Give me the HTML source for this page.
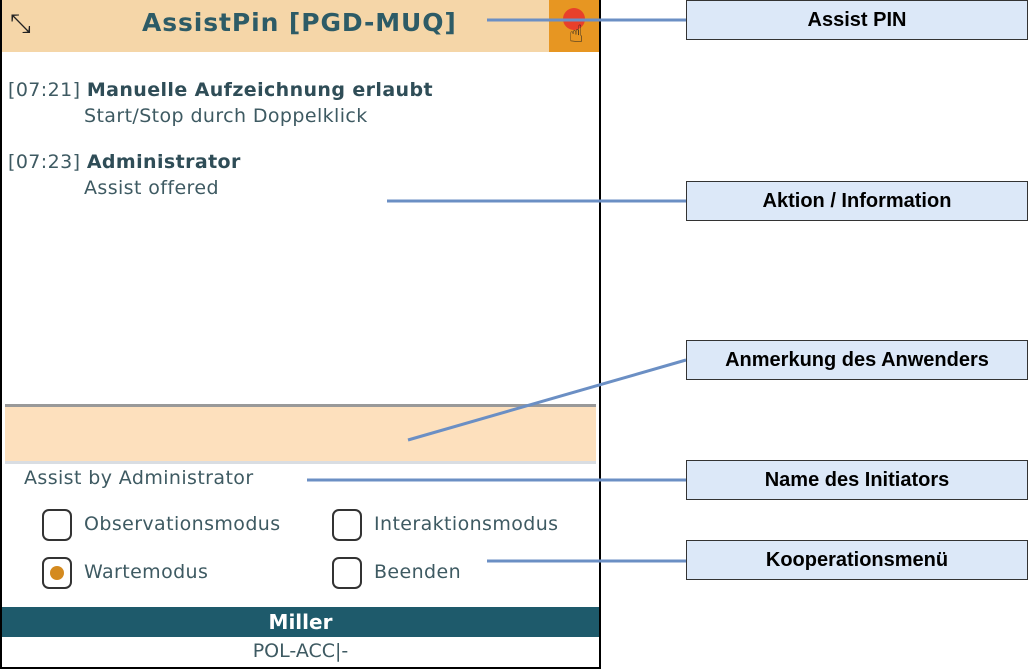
<!DOCTYPE html>
<html><head><style>
body{margin:0;width:1028px;height:670px;background:#fff;position:relative;font-family:"DejaVu Sans","Liberation Sans",sans-serif;overflow:hidden}
.app{position:absolute;left:0;top:0;width:597px;height:667px;border:2px solid #000;border-top:none;background:#fff}
.hdr{position:absolute;left:0;top:0;width:597px;height:52px;background:#f5d6a8}
.hdr .t{position:absolute;left:140px;top:8px;font-size:25px;font-weight:bold;color:#2d5b66;letter-spacing:0.9px}
.pin{position:absolute;left:547px;top:0;width:50px;height:52px;background:#e79622}
.pin .d{position:absolute;left:14px;top:8px;width:22px;height:22px;border-radius:50%;background:#e8402a}
.m{position:absolute;font-size:19px;color:#3e5a62;letter-spacing:0.4px}
.b{font-weight:bold;color:#2f4d57}
.fld{position:absolute;left:3px;top:404px;width:591px;height:54px;background:#fde0bd;border-top:3px solid #999;border-bottom:3px solid #d9dde2}
.cb{position:absolute;width:26px;height:28px;border:2px solid #333;border-radius:7px;background:#fff}
.ft{position:absolute;left:0;top:607px;width:597px;height:30px;background:#1e5a6b;color:#fff;font-weight:bold;font-size:20px;text-align:center;line-height:30px}
.ft2{position:absolute;left:0;top:640px;width:597px;text-align:center;font-size:19px;color:#3e5a62}
.lb{position:absolute;left:686px;width:340px;height:38px;background:#dce8f8;border:1px solid #333;font-family:"Liberation Sans",sans-serif;font-weight:bold;font-size:20px;text-align:center;line-height:38px;color:#000}
</style></head><body>
<div class="app">
<div class="hdr"><div class="t">AssistPin [PGD-MUQ]</div>
<div style="position:absolute;left:8px;top:10px;font-size:26px;color:#222;line-height:28px">⤡</div>
<div class="pin"><div class="d"></div><div style="position:absolute;left:20px;top:20px;font-size:24px;color:#222">☝</div></div></div>
<div class="m" style="left:6px;top:79px">[07:21] <span class="b">Manuelle Aufzeichnung erlaubt</span></div>
<div class="m" style="left:82px;top:105px">Start/Stop durch Doppelklick</div>
<div class="m" style="left:6px;top:151px">[07:23] <span class="b">Administrator</span></div>
<div class="m" style="left:82px;top:177px">Assist offered</div>
<div class="fld"></div>
<div class="m" style="left:22px;top:467px">Assist by Administrator</div>
<div class="cb" style="left:40px;top:509px"></div><div class="m" style="left:82px;top:513px">Observationsmodus</div>
<div class="cb" style="left:330px;top:509px"></div><div class="m" style="left:372px;top:513px">Interaktionsmodus</div>
<div class="cb" style="left:40px;top:557px"><div style="position:absolute;left:6px;top:7px;width:14px;height:14px;border-radius:50%;background:#d48a1f"></div></div><div class="m" style="left:82px;top:561px">Wartemodus</div>
<div class="cb" style="left:330px;top:557px"></div><div class="m" style="left:372px;top:561px">Beenden</div>
<div class="ft">Miller</div>
<div class="ft2">POL-ACC|-</div>
</div>
<svg style="position:absolute;left:0;top:0" width="1028" height="670">
<g stroke="#6b8fc4" stroke-width="3">
<line x1="487" y1="20" x2="686" y2="20"/>
<line x1="387" y1="201" x2="686" y2="201"/>
<line x1="408" y1="440" x2="686" y2="360"/>
<line x1="307" y1="480" x2="686" y2="480"/>
<line x1="487" y1="561" x2="686" y2="561"/>
</g></svg>
<div class="lb" style="top:0px">Assist PIN</div>
<div class="lb" style="top:181px">Aktion / Information</div>
<div class="lb" style="top:340px">Anmerkung des Anwenders</div>
<div class="lb" style="top:460px">Name des Initiators</div>
<div class="lb" style="top:540px">Kooperationsmenü</div>
</body></html>
